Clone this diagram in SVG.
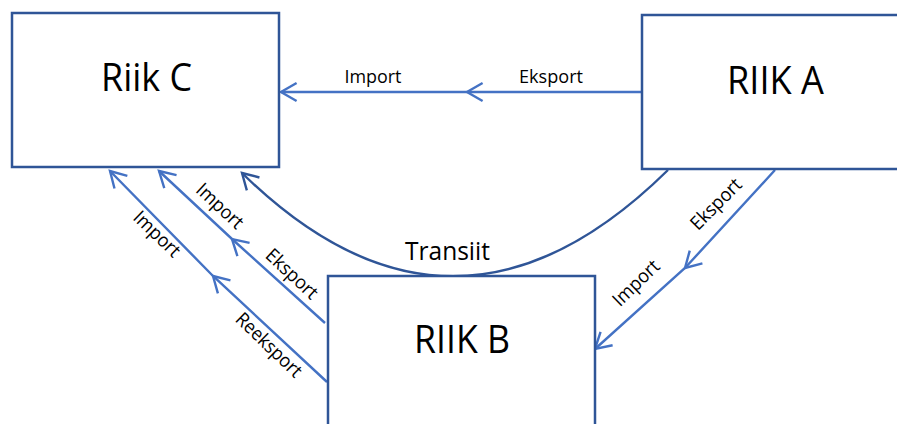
<svg xmlns="http://www.w3.org/2000/svg" width="897" height="424" viewBox="0 0 897 424">
<defs>
<style>
.box{fill:#fff;stroke:#2F5597;stroke-width:2.5}
.big{font-family:"Open Sans","Noto Sans",sans-serif;font-size:38px;fill:#000;text-anchor:middle}
.lbl{font-family:"Open Sans","Noto Sans",sans-serif;font-size:19px;fill:#000;text-anchor:middle}
.lt{fill:none;stroke:#4472C4;stroke-width:2.4}
.dk{fill:none;stroke:#2F5597;stroke-width:2.4}
</style>
<marker id="ahL" markerUnits="userSpaceOnUse" orient="auto" overflow="visible" markerWidth="20" markerHeight="20" refX="0" refY="0">
<path d="M-15.6,-9 L0,0 L-15.6,9" fill="none" stroke="#4472C4" stroke-width="2.4"/>
</marker>
<marker id="ahD" markerUnits="userSpaceOnUse" orient="auto" overflow="visible" markerWidth="20" markerHeight="20" refX="0" refY="0">
<path d="M-15.6,-9 L0,0 L-15.6,9" fill="none" stroke="#2F5597" stroke-width="2.4"/>
</marker>
</defs>
<rect width="897" height="424" fill="#fff"/>
<g id="connectors">
<path class="lt" d="M642,92 L467,92 L281,92" marker-mid="url(#ahL)" marker-end="url(#ahL)"/>
<path class="dk" d="M668,170 Q454,381 242,173" marker-end="url(#ahD)"/>
<path class="lt" d="M327,382 L213,276 L110,171" marker-mid="url(#ahL)" marker-end="url(#ahL)"/>
<path class="lt" d="M325,323 L232,239 L159,171" marker-mid="url(#ahL)" marker-end="url(#ahL)"/>
<path class="lt" d="M775,170 L685,268 L595,349" marker-mid="url(#ahL)" marker-end="url(#ahL)"/>
</g>
<g id="labels">
<text class="lbl" x="373" y="83" textLength="57" lengthAdjust="spacingAndGlyphs">Import</text>
<text class="lbl" x="551" y="83" textLength="64" lengthAdjust="spacingAndGlyphs">Eksport</text>
<text class="lbl" x="447.5" y="260" style="font-size:25px" textLength="85" lengthAdjust="spacingAndGlyphs">Transiit</text>
<text class="lbl" transform="translate(156,235) rotate(44)" y="5" textLength="57" lengthAdjust="spacingAndGlyphs">Import</text>
<text class="lbl" transform="translate(268,346) rotate(44)" y="5" textLength="84" lengthAdjust="spacingAndGlyphs">Reeksport</text>
<text class="lbl" transform="translate(219,207) rotate(43)" y="5" textLength="57" lengthAdjust="spacingAndGlyphs">Import</text>
<text class="lbl" transform="translate(291,275) rotate(43)" y="5" textLength="64" lengthAdjust="spacingAndGlyphs">Eksport</text>
<text class="lbl" transform="translate(717,205) rotate(-45)" y="5" textLength="64" lengthAdjust="spacingAndGlyphs">Eksport</text>
<text class="lbl" transform="translate(637,284) rotate(-44)" y="5" textLength="57" lengthAdjust="spacingAndGlyphs">Import</text>
</g>
<g id="riik-c">
<rect class="box" x="12" y="13" width="267" height="154"/>
<text class="big" x="146.5" y="91" textLength="91" lengthAdjust="spacingAndGlyphs">Riik C</text>
</g>
<g id="riik-a">
<rect class="box" x="642" y="15" width="270" height="154"/>
<text class="big" x="775.5" y="94" textLength="97" lengthAdjust="spacingAndGlyphs">RIIK A</text>
</g>
<g id="riik-b">
<rect class="box" x="328" y="276" width="267" height="160"/>
<text class="big" x="462" y="353" textLength="96" lengthAdjust="spacingAndGlyphs">RIIK B</text>
</g>
</svg>
